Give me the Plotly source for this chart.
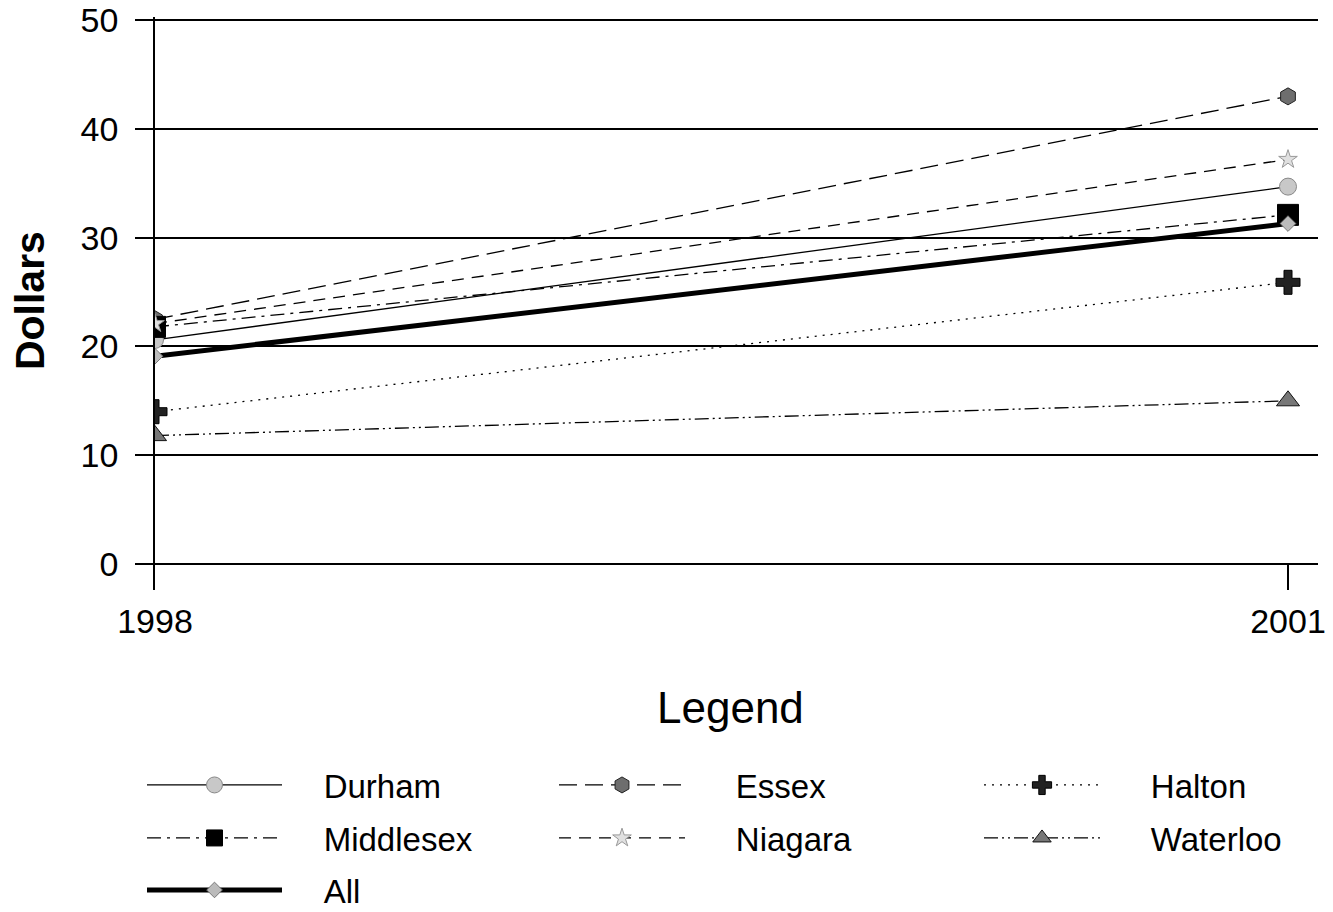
import plotly.graph_objects as go

years = [1998, 2001]
series_names = ["Durham", "Essex", "Halton", "Middlesex", "Niagara", "Waterloo", "All"]
durham = [20.6, 34.7]
essex = [22.5, 43.0]
halton = [14.0, 25.9]
middlesex = [21.8, 32.1]
niagara = [22.1, 37.2]
waterloo = [11.8, 15.0]
all_ = [19.1, 31.3]
y_ticks = [0, 10, 20, 30, 40, 50]

values = [durham, essex, halton, middlesex, niagara, waterloo, all_]
styles = {
    "Durham": dict(dash="solid", width=1.3, symbol="circle", msize=17, mcolor="#c8c8c8", mline="#888"),
    "Essex": dict(dash="18px,8px", width=1.3, symbol="hexagon", msize=17, mcolor="#6e6e6e", mline="#222"),
    "Halton": dict(dash="2px,6px", width=1.3, symbol="cross", msize=20, mcolor="#222", mline="#000"),
    "Middlesex": dict(dash="14px,6px,3px,6px", width=1.3, symbol="square", msize=21, mcolor="#000", mline="#000"),
    "Niagara": dict(dash="12px,8px", width=1.3, symbol="star", msize=14, mcolor="#e0e0e0", mline="#999"),
    "Waterloo": dict(dash="14px,4px,2px,4px,2px,4px", width=1.3, symbol="triangle-up", msize=20, mcolor="#777", mline="#111"),
    "All": dict(dash="solid", width=5, symbol="diamond", msize=12, mcolor="#bbb", mline="#777"),
}

# legend layout (page is offset 8px by the html body margin)
W, H, OFF = 1333 - 8, 912 - 8, 8
col_line_start = [148, 560, 985]
col_line_len = [134, 125, 115]
col_text_start = [325, 735, 1148]
row_y = [785, 838, 890]
legend_slot = {"Durham": (0, 0), "Essex": (0, 1), "Halton": (0, 2),
               "Middlesex": (1, 0), "Niagara": (1, 1), "Waterloo": (1, 2),
               "All": (2, 0)}

font = "Liberation Sans, Arial, sans-serif"
legend_font_size = 33
nbsp_w = 0.278 * legend_font_size

# y scale: 50 at page y=20, 0 at page y=564
px_per_unit = (564 - 20) / 50
y_top, y_bot = 50.3, -2.4
plot_top = 564 - y_top * px_per_unit
plot_bot = 564 - y_bot * px_per_unit

fig = go.Figure()
legend_layouts = {}
for i, (name, vals) in enumerate(zip(series_names, values)):
    s = styles[name]
    r, c = legend_slot[name]
    lid = "legend" if i == 0 else f"legend{i + 1}"
    lx = col_line_start[c] - OFF - 6
    iw = col_line_len[c] + 1
    gap = (col_text_start[c] - OFF) - (lx + iw + 11)
    n_sp = max(0, round(gap / nbsp_w))
    fig.add_trace(go.Scatter(
        x=years, y=vals, name="\u00a0" * n_sp + name, mode="lines+markers",
        line=dict(color="black", width=s["width"], dash=s["dash"]),
        marker=dict(symbol=s["symbol"], size=s["msize"], color=s["mcolor"],
                    line=dict(color=s["mline"], width=1)),
        legend=lid,
    ))
    legend_layouts[lid] = dict(orientation="v", xanchor="left", yanchor="middle",
                               xref="container", yref="container",
                               x=lx / W, y=1 - (row_y[r] - OFF) / H,
                               font=dict(family=font, size=legend_font_size, color="black"),
                               itemwidth=iw, bgcolor="rgba(0,0,0,0)",
                               itemclick=False, borderwidth=0)

plot_h = plot_bot - plot_top
fig.update_layout(
    width=W, height=H,
    margin=dict(l=155 - OFF, r=15, t=plot_top - OFF, b=H - (plot_bot - OFF), autoexpand=False),
    paper_bgcolor="white", plot_bgcolor="white",
    showlegend=True,
    xaxis=dict(range=[1998, 2001 + 3 * 30 / 1133], tickvals=years, ticktext=["1998", "2001"],
               ticks="inside", ticklen=25, tickwidth=1.5, tickcolor="black",
               showgrid=False, showline=False, zeroline=False, automargin=False,
               ticklabelstandoff=8, ticklabeloverflow="allow",
               tickfont=dict(family=font, size=34, color="black")),
    yaxis=dict(range=[y_bot, y_top], tickvals=y_ticks, ticks="outside", ticklen=18,
               tickwidth=1.5, tickcolor="black", showgrid=True, gridcolor="black", gridwidth=1.5,
               showline=True, linecolor="black", linewidth=1.5, zeroline=False, automargin=False,
               ticklabelstandoff=10, ticklabeloverflow="allow",
               tickfont=dict(family=font, size=34, color="black")),
    annotations=[
        dict(text="<b>Dollars</b>", xref="paper", yref="paper", x=(30 - 155) / 1163,
             y=(plot_bot - 301) / plot_h,
             textangle=-90, showarrow=False, xanchor="center", yanchor="middle",
             font=dict(family=font, size=41, color="black")),
        dict(text="Legend", xref="paper", yref="paper", x=(730 - 155) / 1163,
             y=(plot_bot - 708) / plot_h,
             yanchor="middle", showarrow=False, font=dict(family=font, size=44, color="black")),
    ],
)
fig.update_layout(**legend_layouts)

fig.write_html("out.html")
